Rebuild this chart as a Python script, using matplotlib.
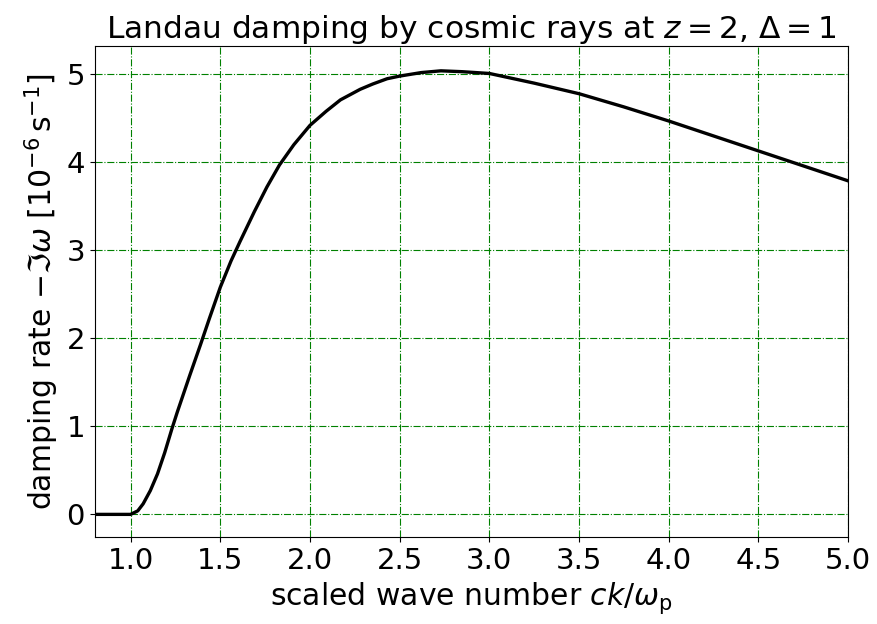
import matplotlib
matplotlib.use("Agg")
import matplotlib.pyplot as plt

# scaled wave number ck/omega_p and damping rate -Im(omega) [1e-6 s^-1]
ck = [0.80, 1.00, 1.04, 1.07, 1.11, 1.15, 1.19, 1.23, 1.26, 1.30, 1.33, 1.39,
      1.44, 1.50, 1.56, 1.61, 1.69, 1.76, 1.83, 1.91, 2.00, 2.09, 2.17, 2.28,
      2.35, 2.43, 2.50, 2.62, 2.73, 2.85, 3.00, 3.25, 3.50, 3.75, 4.00,
      4.25, 4.50, 4.75, 5.00]
damp = [0.00, 0.00, 0.04, 0.12, 0.27, 0.46, 0.70, 0.97, 1.16, 1.40, 1.58, 1.93,
        2.23, 2.58, 2.88, 3.10, 3.44, 3.72, 3.97, 4.20, 4.42, 4.58, 4.71, 4.83,
        4.89, 4.95, 4.98, 5.02, 5.04, 5.03, 5.01, 4.90, 4.78, 4.63, 4.47,
        4.30, 4.13, 3.96, 3.79]

fig = plt.figure(figsize=(8.77, 6.24), dpi=100)
ax = fig.add_axes([0.108, 0.139, 0.859, 0.787])
ax.plot(ck, damp, color="black", lw=2.4)
ax.set_xlim(0.8, 5.0)
ax.set_ylim(-0.26, 5.32)
ax.set_xticks([1.0, 1.5, 2.0, 2.5, 3.0, 3.5, 4.0, 4.5, 5.0])
ax.set_yticks([0, 1, 2, 3, 4, 5])
ax.grid(True, color="green", ls="-.", lw=0.8)
ax.tick_params(labelsize=21)
ax.set_xlabel(r"scaled wave number $ck/\omega_\mathrm{p}$", fontsize=21.5)
ax.set_ylabel(r"damping rate $-\Im\omega$ [$10^{-6}\,\mathrm{s}^{-1}$]", fontsize=21.5)
ax.set_title(r"Landau damping by cosmic rays at $z=2$, $\Delta=1$", fontsize=22.5)

fig.savefig("out.png", dpi=100)
